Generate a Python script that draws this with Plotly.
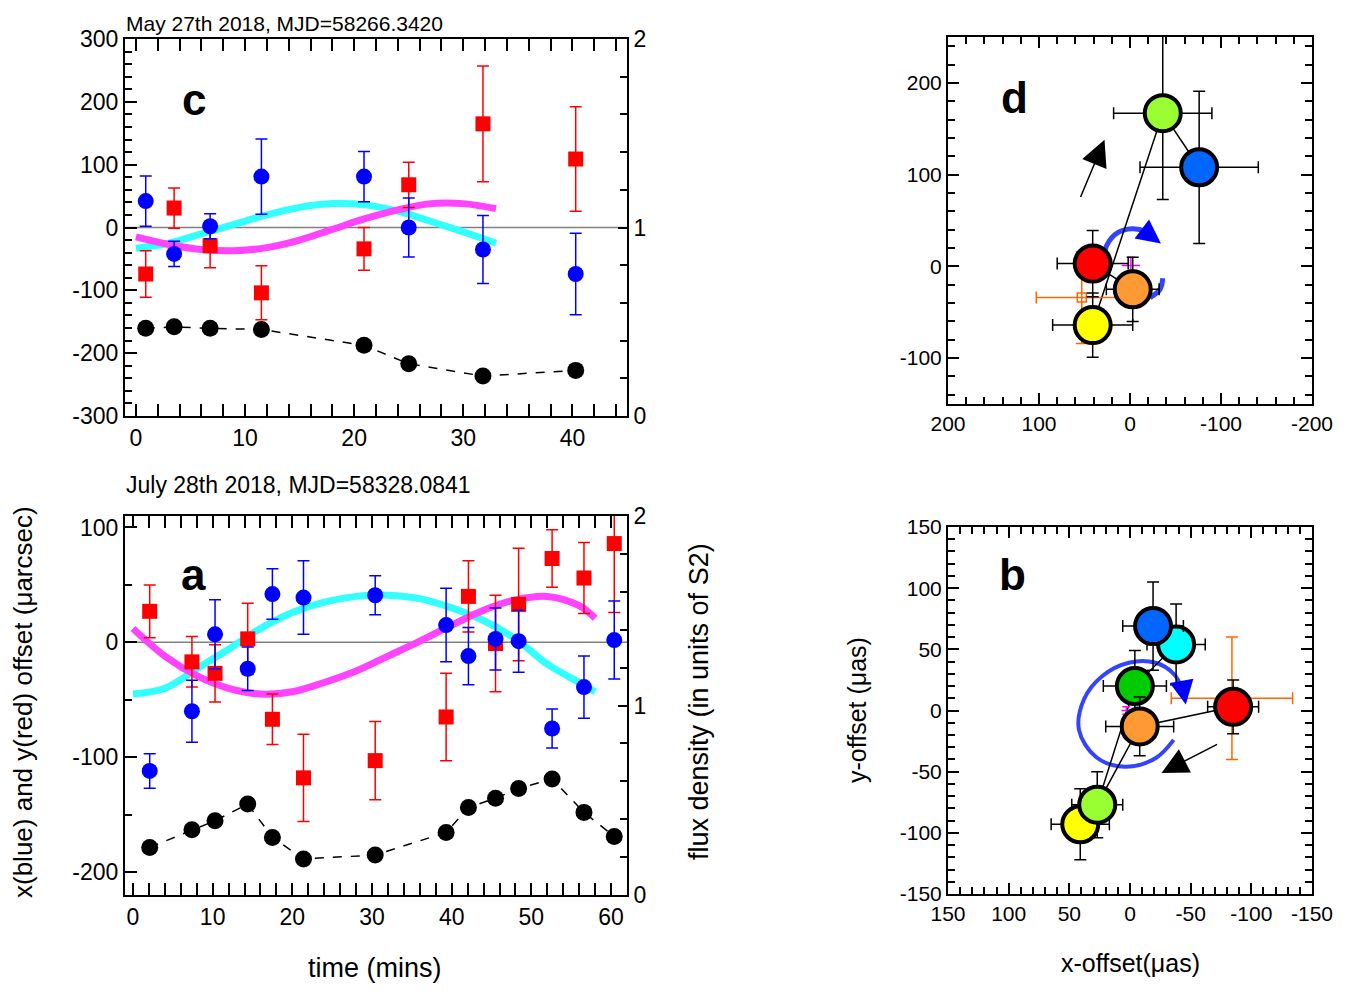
import plotly.graph_objects as go

FONT = "Liberation Sans"

# ---- panel c: May 27th 2018 ----
c_t = [0.9, 3.5, 6.8, 11.5, 20.9, 25.0, 31.8, 40.3]
c_x = [42, -42, 2, 81, 81, 0, -35, -74]
c_x_err = [40, 20, 20, 60, 40, 47, 54, 65]
c_y = [-74, 31, -29, -104, -34, 68, 165, 109]
c_y_err = [37, 32, 35, 43, 34, 36, 92, 83]
c_flux = [0.465, 0.473, 0.465, 0.459, 0.375, 0.277, 0.212, 0.242]
c_fit_t = [0, 3, 6, 9, 12, 15, 18, 21, 24, 27, 30, 33]
c_fit_x = [-33, -25, -10, 5, 20, 32, 38, 36, 26, 10, -7, -25]
c_fit_y = [-15, -27, -35, -37, -32, -20, -3, 14, 28, 38, 38, 30]

# ---- panel a: July 28th 2018 ----
a_t = [2.1, 7.4, 10.3, 14.4, 17.5, 21.4, 30.4, 39.3, 42.1, 45.5, 48.4, 52.6, 56.6, 60.4]
a_x = [-112, -60, 7, -23, 42, 39, 41, 15, -12, 3, 1, -75, -39, 2]
a_x_err = [15, 27, 30, 19, 22, 32, 17, 32, 25, 27, 27, 17, 27, 34]
a_y = [27, -17, -27, 3, -67, -118, -103, -65, 40, -1, 33, 73, 56, 86]
a_y_err = [23, 22, 25, 31, 22, 38, 34, 38, 31, 42, 49, 25, 31, 60]
a_flux = [0.251, 0.344, 0.392, 0.480, 0.304, 0.190, 0.211, 0.330, 0.462, 0.511, 0.562, 0.612, 0.436, 0.309]
a_fit_t = [0, 4, 8, 12, 16, 20, 24, 28, 32, 36, 40, 44, 48, 52, 56, 58]
a_fit_x = [-45, -40, -23, -6, 12, 26, 35, 40, 41, 38, 30, 19, 3, -19, -35, -43]
a_fit_y = [12, -12, -29, -40, -45, -43, -35, -25, -12, 1, 15, 28, 37, 40, 32, 21]

# ---- panel d: sky positions, May 27th ----
d_x = [41, -3, 41, -36, -76]
d_y = [3, -25, -64, 167, 108]
d_x_err = [39, 29, 44, 54, 65]
d_y_err = [36, 35, 35, 94, 83]
d_colors = ["#ff0000", "#ff9933", "#ffff00", "#99ff33", "#0066ff"]
d_sq = dict(x=[53], y=[-34], ex=[50], ey=[50])
d_mag = dict(x=[-1], y=[1], ex=[10], ey=[9])
d_arc_x = [31, 25, 13, -2, -18, -27]
d_arc_y = [-1, 24, 37, 41, 38, 32]
d_arc2_x = [-36, -33, -22]
d_arc2_y = [-13, -25, -34]

# ---- panel b: sky positions, July 28th ----
b_x = [41, 27, -4, -8, -38, -19, -85]
b_y = [-93, -77, 20, -13, 54, 69, 3]
b_x_err = [24, 21, 26, 28, 24, 25, 21]
b_y_err = [29, 27, 29, 24, 33, 36, 22]
b_colors = ["#ffff00", "#99ff33", "#00cc00", "#ff9933", "#00ffff", "#0066ff", "#ff0000"]
b_sq = dict(x=[-84], y=[10], ex=[50], ey=[50])
b_mag = dict(x=[3], y=[0], ex=[4], ey=[3])
b_ell_x = [-36, -21, 4, 28, 42, 38, 23, 1, -21, -36, -43]
b_ell_y = [-24, -39, -46, -38, -16, 9, 28, 39, 39, 30, 18]

# tick values
c_yticks = [-300, -200, -100, 0, 100, 200, 300]
a_yticks = [-200, -100, 0, 100]
flux_ticks = [0, 1, 2]
c_xticks = [0, 10, 20, 30, 40]
a_xticks = [0, 10, 20, 30, 40, 50, 60]
d_ticks = [-200, -100, 0, 100, 200]
b_ticks = [-150, -100, -50, 0, 50, 100, 150]

# page body has an 8px margin, so the figure is made smaller and shifted
W, H, OFF = 1344, 976, 8


def px(x):
    return (x - OFF) / W


def py(y):
    return 1 - (y - OFF) / H


fig = go.Figure()


def time_panel(t, xs, xe, ys, ye, flux, ft, fx, fy, xa, ya, ya2, t_max):
    fig.add_trace(go.Scatter(x=[-5, t_max + 5], y=[0, 0], mode="lines",
                             line=dict(color="#808080", width=1.5),
                             xaxis=xa, yaxis=ya, showlegend=False))
    fig.add_trace(go.Scatter(x=ft, y=fx, mode="lines", line=dict(color="#33ffff", width=7, shape="spline"),
                             xaxis=xa, yaxis=ya, showlegend=False))
    fig.add_trace(go.Scatter(x=ft, y=fy, mode="lines", line=dict(color="#ff44ff", width=7, shape="spline"),
                             xaxis=xa, yaxis=ya, showlegend=False))
    fig.add_trace(go.Scatter(x=t, y=ys, mode="markers",
                             marker=dict(symbol="square", size=15, color="#ff0000"),
                             error_y=dict(type="data", array=ye, color="#ff0000", thickness=1.5, width=6),
                             xaxis=xa, yaxis=ya, showlegend=False))
    fig.add_trace(go.Scatter(x=t, y=xs, mode="markers",
                             marker=dict(symbol="circle", size=16, color="#0000ff"),
                             error_y=dict(type="data", array=xe, color="#0000ff", thickness=1.5, width=6),
                             xaxis=xa, yaxis=ya, showlegend=False))
    fig.add_trace(go.Scatter(x=t, y=flux, mode="lines+markers",
                             line=dict(color="black", width=1.5, dash="dash"),
                             marker=dict(size=17, color="black"),
                             xaxis=xa, yaxis=ya2, showlegend=False))


def sky_panel(xs, ys, xe, ye, colors, sq, mag, paths, xa, ya):
    for p in paths:
        fig.add_trace(go.Scatter(x=[xs[i] for i in p], y=[ys[i] for i in p], mode="lines",
                                 line=dict(color="black", width=1.5),
                                 xaxis=xa, yaxis=ya, showlegend=False))
    fig.add_trace(go.Scatter(x=sq["x"], y=sq["y"], mode="markers",
                             marker=dict(symbol="square-open", size=9, color="#ff6600", line=dict(width=1.5)),
                             error_x=dict(type="data", array=sq["ex"], color="#ff6600", thickness=1.5, width=6),
                             error_y=dict(type="data", array=sq["ey"], color="#ff6600", thickness=1.5, width=6),
                             xaxis=xa, yaxis=ya, showlegend=False))
    fig.add_trace(go.Scatter(x=mag["x"], y=mag["y"], mode="markers", marker=dict(size=1, color="#ff00ff"),
                             error_x=dict(type="data", array=mag["ex"], color="#ff00ff", thickness=1.5, width=0),
                             error_y=dict(type="data", array=mag["ey"], color="#ff00ff", thickness=1.5, width=4),
                             xaxis=xa, yaxis=ya, showlegend=False))
    for i in range(len(xs)):
        fig.add_trace(go.Scatter(x=[xs[i]], y=[ys[i]], mode="markers",
                                 marker=dict(size=36, color=colors[i], line=dict(color="black", width=4)),
                                 error_x=dict(type="data", array=[xe[i]], color="black", thickness=1.5, width=6),
                                 error_y=dict(type="data", array=[ye[i]], color="black", thickness=1.5, width=6),
                                 xaxis=xa, yaxis=ya, showlegend=False))


time_panel(c_t, c_x, c_x_err, c_y, c_y_err, c_flux, c_fit_t, c_fit_x, c_fit_y, "x", "y", "y2", 45)
time_panel(a_t, a_x, a_x_err, a_y, a_y_err, a_flux, a_fit_t, a_fit_x, a_fit_y, "x2", "y3", "y4", 62)

# blue rotation arrows (drawn under the circles)
for ax_, ay_, xa, ya, w in [(d_arc_x, d_arc_y, "x3", "y5", 5), (d_arc2_x, d_arc2_y, "x3", "y5", 5),
                            (b_ell_x, b_ell_y, "x4", "y6", 4)]:
    fig.add_trace(go.Scatter(x=ax_, y=ay_, mode="lines", line=dict(color="#3344ff", width=w, shape="spline"),
                             xaxis=xa, yaxis=ya, showlegend=False))

sky_panel(d_x, d_y, d_x_err, d_y_err, d_colors, d_sq, d_mag, [[0, 1], [2, 3, 4]], "x3", "y5")
sky_panel(b_x, b_y, b_x_err, b_y_err, b_colors, b_sq, b_mag, [[6, 3, 1, 2, 4, 5]], "x4", "y6")

tick_font = dict(family=FONT, size=23, color="black")
small_font = dict(family=FONT, size=21, color="black")


def labels(vals):
    return [str(v) if v >= 0 else "-" + str(-v) for v in vals]


def axis(domain, rng, vals, minor, font, anchor, **kw):
    d = dict(domain=domain, range=rng, tickmode="array", tickvals=vals, ticktext=labels(vals),
             ticks="inside", ticklen=12, tickwidth=2, automargin=False,
             tickcolor="black", showline=True, linewidth=2, linecolor="black", mirror="allticks",
             showgrid=False, zeroline=False, tickfont=font, anchor=anchor,
             minor=dict(tick0=0, dtick=minor, ticks="inside", ticklen=7, tickwidth=1.5, tickcolor="black",
                        showgrid=False))
    d.update(kw)
    return d


left_x = [px(125), px(627)]
right_x = [px(948), px(1312)]

fig.update_layout(
    template="none",
    width=W, height=H,
    margin=dict(l=0, r=0, t=0, b=0, pad=0),
    paper_bgcolor="white", plot_bgcolor="white",
    font=dict(family=FONT, color="black"),
    showlegend=False,
    xaxis=axis(left_x, [-1, 45], c_xticks, 2, tick_font, "y"),
    yaxis=axis([py(416), py(39)], [-300, 300], c_yticks, 20, tick_font, "x", mirror=True),
    yaxis2=axis([py(416), py(39)], [0, 2], flux_ticks, 0.2, tick_font, "x", overlaying="y", side="right",
                mirror=False, ticklen=9),
    xaxis2=axis(left_x, [-1, 62], a_xticks, 2, tick_font, "y3"),
    yaxis3=axis([py(895), py(516)], [-220, 110], a_yticks, 50, tick_font, "x2", mirror=True),
    yaxis4=axis([py(895), py(516)], [0, 2], flux_ticks, 0.2, tick_font, "x2", overlaying="y3", side="right",
                mirror=False, ticklen=9),
    xaxis3=axis(right_x, [200, -200], d_ticks, 20, small_font, "y5", ticklen=11),
    yaxis5=axis([py(404), py(37)], [-150, 250], d_ticks, 20, small_font, "x3", ticklen=11),
    xaxis4=axis(right_x, [150, -150], b_ticks, 10, small_font, "y6", ticklen=11),
    yaxis6=axis([py(894), py(527)], [-150, 150], b_ticks, 10, small_font, "x4", ticklen=11),
)

ann = []
ann.append(dict(text="May 27th 2018, MJD=58266.3420", x=px(124), y=py(23), xanchor="left", yanchor="middle",
                font=dict(size=21)))
ann.append(dict(text="July 28th 2018, MJD=58328.0841", x=px(124), y=py(485), xanchor="left", yanchor="middle",
                font=dict(size=23)))
for letter, lx, ly in [("c", 194, 100), ("a", 193, 574), ("d", 1015, 98), ("b", 1013, 574)]:
    ann.append(dict(text="<b>%s</b>" % letter, x=px(lx), y=py(ly), xanchor="center", yanchor="middle",
                    font=dict(size=44)))
ann.append(dict(text="x(blue) and y(red) offset (\u03bcarcsec)", x=px(23), y=py(702), textangle=-90,
                xanchor="center", yanchor="middle", font=dict(size=26)))
ann.append(dict(text="flux density (in units of S2)", x=px(699), y=py(702), textangle=-90,
                xanchor="center", yanchor="middle", font=dict(size=27)))
ann.append(dict(text="time (mins)", x=px(375), y=py(968), xanchor="center", yanchor="middle",
                font=dict(size=27)))
ann.append(dict(text="y-offset (\u03bcas)", x=px(857), y=py(710), textangle=-90,
                xanchor="center", yanchor="middle", font=dict(size=25)))
ann.append(dict(text="x-offset(\u03bcas)", x=px(1130), y=py(963), xanchor="center", yanchor="middle",
                font=dict(size=25)))
for a in ann:
    a.update(xref="paper", yref="paper", showarrow=False)
    a["font"].update(family=FONT, color="black")

# black motion arrows
ann.append(dict(x=28, y=138, ax=55, ay=74, xref="x3", yref="y5", axref="x3", ayref="y5", text="",
                showarrow=True, arrowhead=2, arrowsize=3.5, arrowwidth=1.5, arrowcolor="black"))
ann.append(dict(x=-26, y=-51, ax=-73, ay=-27, xref="x4", yref="y6", axref="x4", ayref="y6", text="",
                showarrow=True, arrowhead=2, arrowsize=3.5, arrowwidth=1.5, arrowcolor="black"))
# blue arrow heads
ann.append(dict(x=-34, y=25, ax=-26, ay=31, xref="x3", yref="y5", axref="x3", ayref="y5", text="",
                showarrow=True, arrowhead=2, arrowsize=1.6, arrowwidth=3, arrowcolor="#0000ff"))
ann.append(dict(x=-46, y=5, ax=-44, ay=16, xref="x4", yref="y6", axref="x4", ayref="y6", text="",
                showarrow=True, arrowhead=2, arrowsize=1.6, arrowwidth=3, arrowcolor="#0000ff"))

fig.update_layout(annotations=ann)

fig.write_html("out.html")
